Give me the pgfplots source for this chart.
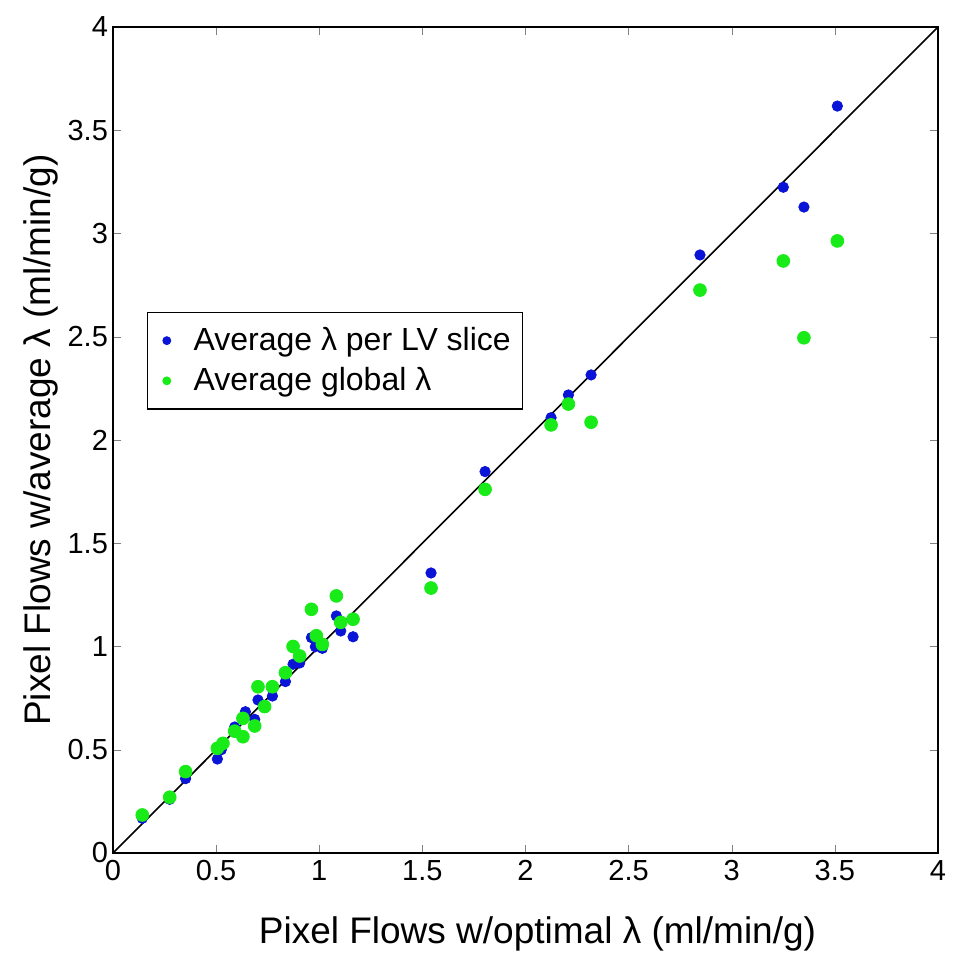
\documentclass[border=0pt]{standalone}
\usepackage{pgfplots}
\pgfplotsset{compat=1.18}
\usepackage{fontspec}
\setmainfont{Liberation Sans}
\definecolor{mblue}{RGB}{10,20,215}
\definecolor{mgreen}{RGB}{25,235,25}
\begin{document}
\begin{tikzpicture}
\begin{axis}[
  name=ax,
  width=412.5pt, height=413pt, scale only axis,
  xmin=0, xmax=4, ymin=0, ymax=4,
  xtick={0,0.5,...,4}, ytick={0,0.5,...,4},
  xticklabels={0,0.5,1,1.5,2,2.5,3,3.5,4},
  yticklabels={0,0.5,1,1.5,2,2.5,3,3.5,4},
  tick align=inside, major tick length=4pt,
  xtick pos=both, ytick pos=both,
  /pgf/number format/assume math mode=true,
  tick label style={font=\fontsize{14.5}{16}\selectfont},
  yticklabel style={xshift=1pt},
  label style={font=\fontsize{18.5}{20}\selectfont},
  xlabel={Pixel Flows w/optimal λ (ml/min/g)},
  ylabel={Pixel Flows w/average λ (ml/min/g)},
  xlabel style={yshift=-11pt, xshift=6pt},
  ylabel style={yshift=-2pt},
  axis line style={line width=0.6pt},
  legend style={at={(0.041,0.655)}, anchor=north west, draw=black, line width=0.6pt,
    font=\fontsize{16}{18}\selectfont, row sep=3pt, inner xsep=4pt, inner ysep=5.5pt, legend cell align=left},
  legend image code/.code={\fill[#1] (0.2cm,0cm) circle (1.9pt); \path[draw=none] (0,0) -- (0.6cm,0);},
]
\addplot[only marks, mark=*, mark size=2.6pt, color=mblue, mark options={fill=mblue, draw=mblue}] coordinates {
(0.142,0.168) (0.275,0.26) (0.352,0.36) (0.506,0.455) (0.525,0.50) (0.59,0.61)
(0.642,0.684) (0.687,0.647) (0.703,0.741) (0.773,0.76) (0.836,0.83) (0.873,0.914)
(0.905,0.92) (0.962,1.043) (0.981,0.999) (1.015,0.991) (1.083,1.148) (1.104,1.075)
(1.164,1.047) (1.542,1.356) (1.804,1.847) (2.124,2.108) (2.208,2.218) (2.318,2.315)
(2.846,2.896) (3.25,3.224) (3.35,3.128) (3.512,3.617)
};
\addlegendentry{Average λ per LV slice}
\addplot[only marks, mark=*, mark size=3.2pt, color=mgreen, mark options={fill=mgreen, draw=mgreen}] coordinates {
(0.142,0.184) (0.275,0.27) (0.352,0.394) (0.506,0.507) (0.533,0.531) (0.59,0.59)
(0.63,0.652) (0.63,0.563) (0.687,0.615) (0.703,0.805) (0.735,0.709) (0.773,0.805)
(0.836,0.873) (0.873,1.0) (0.905,0.954) (0.962,1.18) (0.986,1.052) (1.015,1.01)
(1.083,1.245) (1.104,1.117) (1.164,1.132) (1.542,1.283) (1.804,1.761) (2.124,2.073)
(2.208,2.174) (2.318,2.086) (2.846,2.726) (3.25,2.867) (3.35,2.495) (3.512,2.964)
};
\addlegendentry{Average global λ}
\addplot[black, line width=0.8pt, forget plot] coordinates {(0,0) (4,4)};
\end{axis}
\pgfresetboundingbox
\path[use as bounding box] ([xshift=-56.5pt,yshift=-56pt]ax.south west) rectangle ([xshift=13.5pt,yshift=13.5pt]ax.north east);
\end{tikzpicture}
\end{document}
